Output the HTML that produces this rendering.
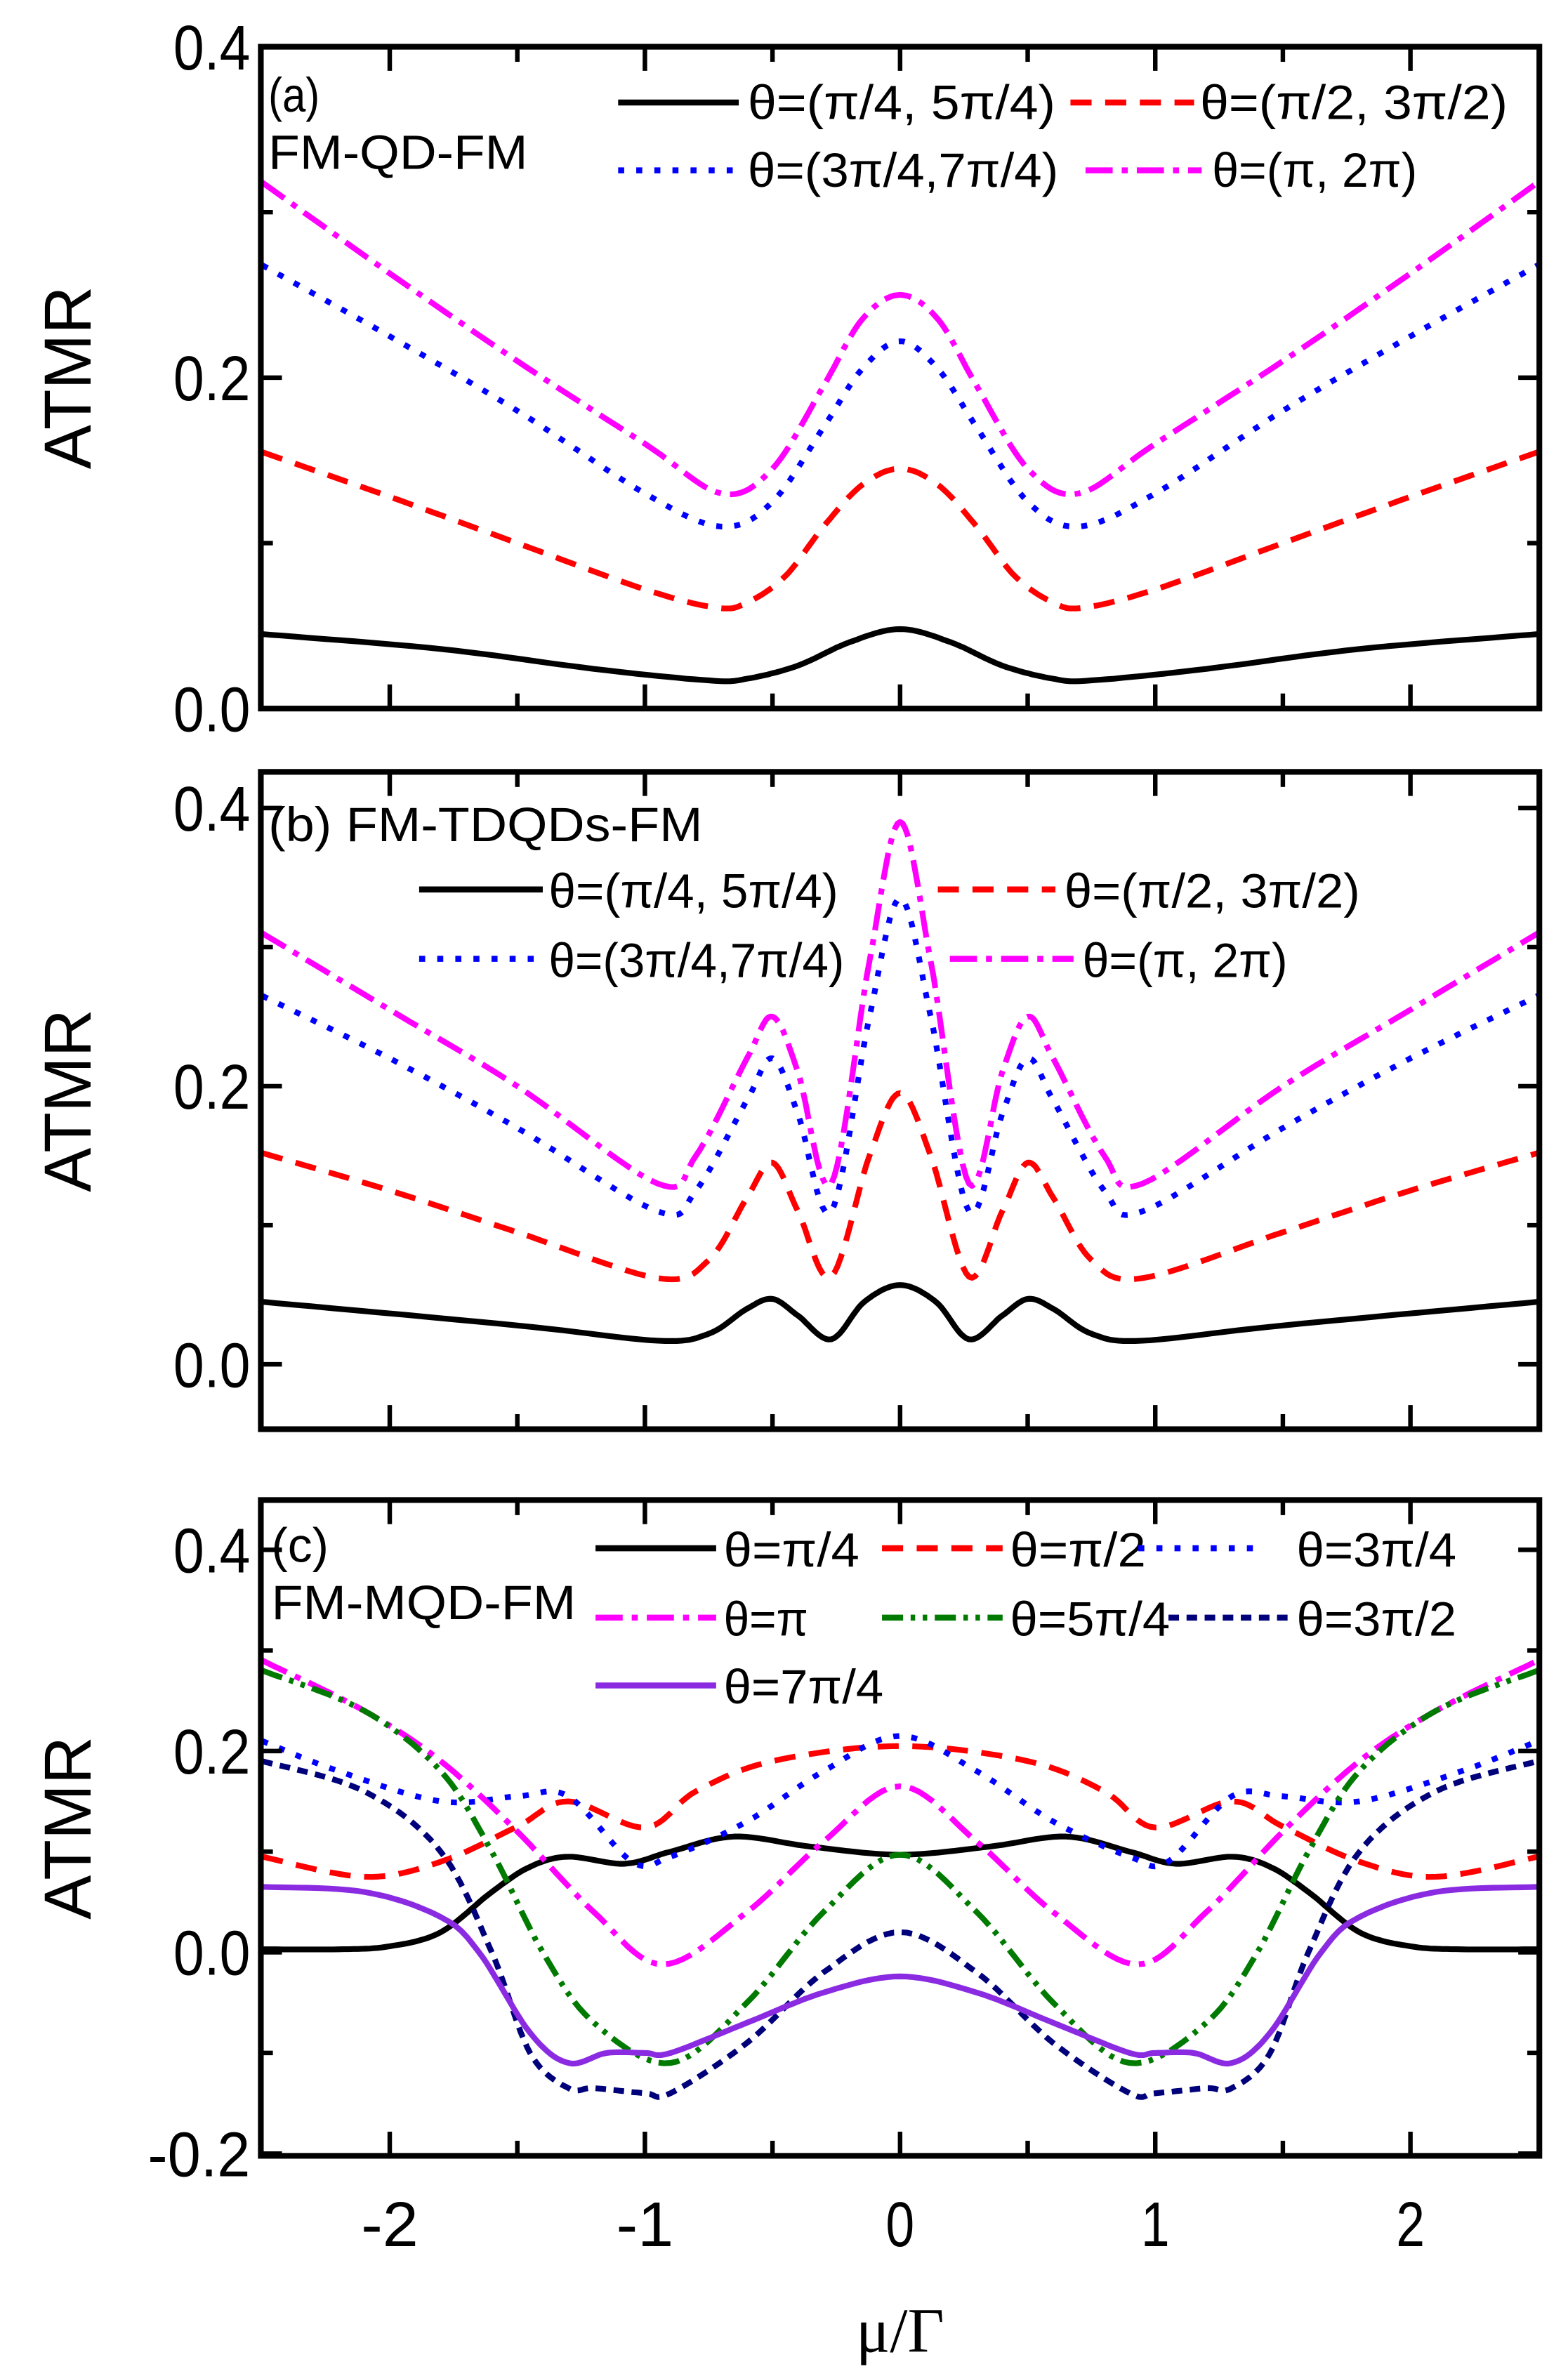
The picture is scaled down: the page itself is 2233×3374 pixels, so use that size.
<!DOCTYPE html>
<html><head><meta charset="utf-8"><style>html,body{margin:0;padding:0;background:#fff}svg{display:block}</style></head>
<body>
<svg id="s" xmlns="http://www.w3.org/2000/svg" width="2233" height="3374" viewBox="0 0 1040 1571.4" preserveAspectRatio="none" font-family="Liberation Sans, sans-serif">
<rect width="1040" height="1571.4" fill="#fff"/>
<g id="g"></g>
</svg>
<script>
const NS="http://www.w3.org/2000/svg";
const G=document.getElementById("g");
function el(t,a,txt){const e=document.createElementNS(NS,t);for(const k in a)e.setAttribute(k,a[k]);if(txt!==undefined)e.textContent=txt;G.appendChild(e);return e;}
const XL=173,XR=1021;
const X=x=>597+x*169.25;
const panels=[
 {top:31,bot:470,y0:470,per:1097.5,ticks:[[0,"0.0"],[0.2,"0.2"],[0.4,"0.4"]],minor:[0.1,0.3]},
 {top:512,bot:948,y0:905,per:922.5,ticks:[[0,"0.0"],[0.2,"0.2"],[0.4,"0.4"]],minor:[0.1,0.3]},
 {top:995,bot:1430,y0:1295,per:667.5,ticks:[[-0.2,"-0.2"],[0,"0.0"],[0.2,"0.2"],[0.4,"0.4"]],minor:[-0.1,0.1,0.3]}
];
function mirror(p){const r=[];for(let i=p.length-1;i>0;i--)r.push([-p[i][0],p[i][1]]);return r.concat(p);}
function spline(pts,n){const out=[];for(let i=0;i<pts.length-1;i++){const p0=pts[Math.max(0,i-1)],p1=pts[i],p2=pts[i+1],p3=pts[Math.min(pts.length-1,i+2)];for(let k=0;k<n;k++){const t=k/n,t2=t*t,t3=t2*t;const f=(a,b,c,d)=>0.5*((2*b)+(-a+c)*t+(2*a-5*b+4*c-d)*t2+(-a+3*b-3*c+d)*t3);out.push([f(p0[0],p1[0],p2[0],p3[0]),f(p0[1],p1[1],p2[1],p3[1])]);}}out.push(pts[pts.length-1]);return out;}
const styles={
 k:{stroke:"#000",da:"none"},
 r:{stroke:"#f00",da:"14 9"},
 b:{stroke:"#00f",da:"4 8"},
 m:{stroke:"#f0f",da:"18 6 4 6"},
 g:{stroke:"#007a00",da:"14 5 3 5 3 5"},
 n:{stroke:"#00007a",da:"7 5"},
 p:{stroke:"#8a2be2",da:"none"}
};
function curve(P,pts,s){const sp=spline(mirror(pts),12);const d=sp.map((q,i)=>(i?"L":"M")+X(q[0]).toFixed(1)+","+(P.y0-q[1]*P.per).toFixed(1)).join("");const st=styles[s];el("path",{d:d,fill:"none",stroke:st.stroke,"stroke-width":3.8,"stroke-dasharray":st.da,"stroke-linejoin":"round"});}
function legline(x1,x2,y,s){const st=styles[s];el("line",{x1:x1,x2:x2,y1:y,y2:y,stroke:st.stroke,"stroke-width":4,"stroke-dasharray":st.da});}
function txt(x,y,s,size,anchor,extra){const a={x:x,y:y,"font-size":size||30,fill:"#000"};if(anchor)a["text-anchor"]=anchor;Object.assign(a,extra||{});return el("text",a,s);}
const data=[
 {k:[[0,0.048],[0.2,0.04],[0.4,0.026],[0.6,0.018],[0.75,0.017],[1.2,0.024],[1.8,0.036],[2.5,0.045]],
  r:[[0,0.145],[0.15,0.135],[0.3,0.11],[0.45,0.08],[0.6,0.064],[0.72,0.061],[1.0,0.072],[1.5,0.1],[2.0,0.128],[2.5,0.155]],
  b:[[0,0.222],[0.15,0.205],[0.3,0.17],[0.5,0.125],[0.7,0.11],[1.0,0.13],[1.5,0.18],[2.0,0.225],[2.5,0.268]],
  m:[[0,0.25],[0.15,0.235],[0.3,0.195],[0.5,0.145],[0.7,0.13],[1.0,0.16],[1.5,0.21],[2.0,0.263],[2.5,0.318]]},
 {k:[[0,0.057],[0.14,0.045],[0.27,0.018],[0.4,0.035],[0.5,0.047],[0.6,0.04],[0.75,0.022],[0.95,0.017],[1.5,0.028],[2.5,0.045]],
  r:[[0,0.195],[0.12,0.15],[0.27,0.063],[0.4,0.11],[0.5,0.145],[0.6,0.12],[0.75,0.075],[0.95,0.062],[1.5,0.095],[2,0.125],[2.5,0.152]],
  b:[[0,0.335],[0.12,0.25],[0.27,0.11],[0.4,0.18],[0.5,0.22],[0.6,0.19],[0.8,0.125],[0.95,0.11],[1.5,0.17],[2,0.22],[2.5,0.265]],
  m:[[0,0.39],[0.12,0.29],[0.27,0.13],[0.4,0.21],[0.5,0.25],[0.6,0.22],[0.8,0.15],[0.95,0.13],[1.5,0.2],[2,0.255],[2.5,0.31]]},
 {k:[[0,0.097],[0.35,0.105],[0.65,0.115],[0.9,0.1],[1.08,0.088],[1.3,0.095],[1.45,0.085],[1.6,0.06],[1.8,0.02],[2.0,0.006],[2.2,0.003],[2.5,0.003]],
  r:[[0,0.205],[0.5,0.19],[0.8,0.16],[1.0,0.124],[1.3,0.15],[1.5,0.125],[1.8,0.09],[2.1,0.075],[2.5,0.095]],
  b:[[0,0.215],[0.3,0.18],[0.6,0.13],[0.9,0.095],[1.05,0.09],[1.3,0.155],[1.5,0.155],[1.8,0.15],[2.2,0.18],[2.5,0.21]],
  m:[[0,0.165],[0.3,0.11],[0.6,0.04],[0.93,-0.012],[1.2,0.04],[1.5,0.12],[1.8,0.19],[2.1,0.24],[2.5,0.29]],
  g:[[0,0.097],[0.3,0.04],[0.6,-0.05],[0.9,-0.11],[1.2,-0.07],[1.4,0.0],[1.6,0.1],[1.8,0.18],[2.1,0.24],[2.5,0.28]],
  n:[[0,0.02],[0.3,-0.02],[0.6,-0.09],[0.9,-0.14],[1.0,-0.14],[1.2,-0.135],[1.3,-0.135],[1.45,-0.1],[1.6,0.0],[1.8,0.1],[2.1,0.16],[2.5,0.19]],
  p:[[0,-0.024],[0.3,-0.04],[0.6,-0.07],[0.9,-0.1],[1.0,-0.1],[1.15,-0.1],[1.3,-0.11],[1.45,-0.08],[1.65,0.0],[1.8,0.035],[2.1,0.06],[2.5,0.065]]}
];
panels.forEach((P,i)=>{
 const D=data[i];
 ["k","r","b","m","g","n","p"].forEach(s=>{if(D[s])curve(P,D[s],s);});
 el("rect",{x:XL,y:P.top,width:XR-XL,height:P.bot-P.top,fill:"none",stroke:"#000","stroke-width":3.8});
 for(let x=-2.5;x<=2.5001;x+=0.5){const xx=X(x);if(xx<XL+2||xx>XR-2)continue;const L=Math.abs(x-Math.round(x))<0.01?16:10;
  el("line",{x1:xx,x2:xx,y1:P.bot,y2:P.bot-L,stroke:"#000","stroke-width":3});
  el("line",{x1:xx,x2:xx,y1:P.top,y2:P.top+L,stroke:"#000","stroke-width":3});}
 P.ticks.forEach(t=>{const y=P.y0-t[0]*P.per;
  el("line",{x1:XL,x2:XL+14,y1:y,y2:y,stroke:"#000","stroke-width":3});
  el("line",{x1:XR,x2:XR-14,y1:y,y2:y,stroke:"#000","stroke-width":3});
  txt(166,y+15,t[1],42,"end",{textLength:t[1].length*17,lengthAdjust:"spacingAndGlyphs"});});
 P.minor.forEach(v=>{const y=P.y0-v*P.per;if(y<P.top+3||y>P.bot-3)return;
  el("line",{x1:XL,x2:XL+8,y1:y,y2:y,stroke:"#000","stroke-width":3});
  el("line",{x1:XR,x2:XR-8,y1:y,y2:y,stroke:"#000","stroke-width":3});});
 const cy=(P.top+P.bot)/2;
 txt(0,0,"ATMR",44,"middle",{transform:`translate(60,${cy}) rotate(-90)`});
});
const cond={lengthAdjust:"spacingAndGlyphs"};
function lt(x,y,s,w){return txt(x,y,s,32,null,Object.assign({textLength:w},cond));}
lt(178,74,"(a)",34);lt(178,112,"FM-QD-FM",172);
legline(410,490,68,"k");lt(496,79,"θ=(π/4, 5π/4)",204);
legline(710,792,68,"r");lt(796,79,"θ=(π/2, 3π/2)",204);
legline(410,490,113,"b");lt(496,124,"θ=(3π/4,7π/4)",206);
legline(720,797,113,"m");lt(804,124,"θ=(π, 2π)",136);
lt(178,558,"(b) FM-TDQDs-FM",288);
legline(278,360,590,"k");lt(364,602,"θ=(π/4, 5π/4)",192);
legline(622,700,590,"r");lt(706,602,"θ=(π/2, 3π/2)",196);
legline(278,360,636,"b");lt(364,648,"θ=(3π/4,7π/4)",196);
legline(630,712,636,"m");lt(718,648,"θ=(π, 2π)",136);
lt(180,1036,"(c)",38);lt(180,1074,"FM-MQD-FM",202);
legline(395,475,1027,"k");lt(480,1039,"θ=π/4",90);
legline(585,665,1027,"r");lt(670,1039,"θ=π/2",90);
legline(755,835,1027,"b");lt(860,1039,"θ=3π/4",106);
legline(395,475,1073,"m");lt(480,1085,"θ=π",56);
legline(585,665,1073,"g");lt(670,1085,"θ=5π/4",106);
legline(775,855,1073,"n");lt(860,1085,"θ=3π/2",106);
legline(395,475,1118,"p");lt(480,1130,"θ=7π/4",106);
[[-2,"-2"],[-1,"-1"],[0,"0"],[1,"1"],[2,"2"]].forEach(t=>txt(X(t[0]),1490,t[1],42,"middle",{textLength:t[1].length*19,lengthAdjust:"spacingAndGlyphs"}));
txt(597,1560,"μ/Γ",42,"middle",{"font-family":"Liberation Serif, serif"});
</script>
</body></html>
